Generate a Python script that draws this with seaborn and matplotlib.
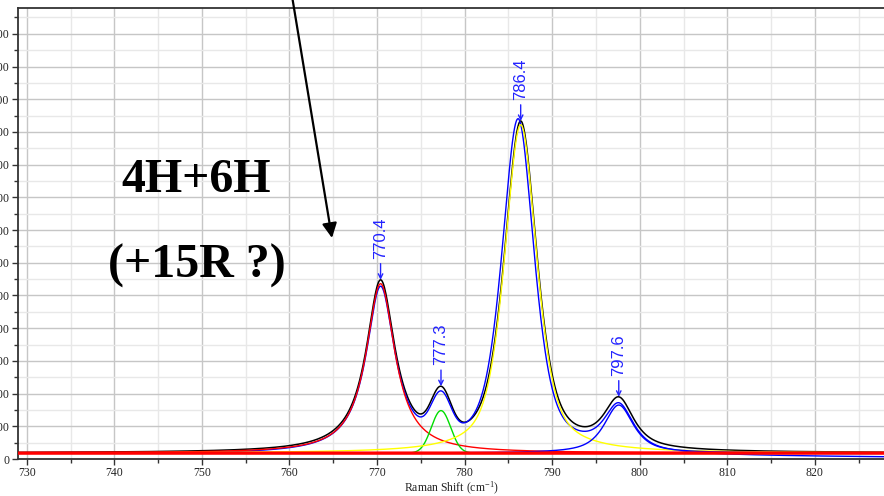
import numpy as np
import pandas as pd
import matplotlib
matplotlib.use("Agg")
import matplotlib.pyplot as plt
import seaborn as sns

# ---- fitted band parameters (Raman shift in cm-1, intensity in counts) ----
peak_labels = ["770.4", "777.3", "786.4", "797.6"]
peak_centers = [770.4, 777.3, 786.4, 797.6]
peak_heights = [518, 130, 1004, 147]
peak_fwhm = [4.0, 2.6, 4.4, 4.0]
peak_lorentz_frac = [1.0, 0.0, 0.6, 0.8]
component_colors = ["#ff0000", "#00dd00", "#ffff00", "#0000ff"]
fit_baseline = 18

# ---- measured spectrum (band positions / heights of the recorded data) ----
data_centers = [770.4, 777.3, 786.1, 797.6]
data_heights = [505, 122, 1020, 140]
data_baseline_ends = [16, 4]

x_min, x_max = 729.0, 828.8
y_min, y_max = 0, 1379
x_ticks = [730, 740, 750, 760, 770, 780, 790, 800, 810, 820]
y_ticks = list(range(0, 1400, 100))


def band(x, center, height, fwhm, eta):
    g = fwhm / 2.0
    sigma = fwhm / 2.3548
    lor = 1.0 / (1.0 + ((x - center) / g) ** 2)
    gau = np.exp(-((x - center) ** 2) / (2 * sigma ** 2))
    return height * (eta * lor + (1 - eta) * gau)


shift = np.arange(727.0, 830.0, 0.05)

components = [
    band(shift, c, h, w, e)
    for c, h, w, e in zip(peak_centers, peak_heights, peak_fwhm, peak_lorentz_frac)
]
fit_total = fit_baseline + np.sum(components, axis=0)

data_base = np.interp(shift, [shift[0], shift[-1]], data_baseline_ends)
measured = data_base + np.sum(
    [band(shift, c, h, w, e) for c, h, w, e in
     zip(data_centers, data_heights, peak_fwhm, peak_lorentz_frac)], axis=0)

sns.set_style("white")
plt.rcParams["font.family"] = ["Liberation Serif", "DejaVu Serif"]
plt.rcParams["mathtext.default"] = "regular"
plt.rcParams["text.color"] = "black"

W, H = 884, 496
fig = plt.figure(figsize=(W / 100, H / 100), dpi=100)
ax_l, ax_r, ax_t, ax_b = 18, 892, 8, 459
ax = fig.add_axes([ax_l / W, (H - ax_b) / H, (ax_r - ax_l) / W, (ax_b - ax_t) / H])

df = pd.DataFrame({"shift": shift, "fit": fit_total, "measured": measured})

sns.lineplot(data=df, x="shift", y="fit", ax=ax, color="black", lw=1.1,
             zorder=3, legend=False)
sns.lineplot(data=df, x="shift", y="measured", ax=ax, color="#0000ff", lw=1.0,
             zorder=4, legend=False)
for comp, col in zip(components, component_colors):
    sns.lineplot(x=shift, y=fit_baseline + comp, ax=ax, color=col, lw=1.0,
                 zorder=5, legend=False)
# fitted baseline
sns.lineplot(x=shift, y=np.full_like(shift, fit_baseline), ax=ax, color="#ff0000",
             lw=2.4, zorder=6, legend=False)

ax.set_xlim(x_min, x_max)
ax.set_ylim(y_min, y_max)
ax.set_xticks(x_ticks)
ax.set_xticks(np.arange(735, 830, 10), minor=True)
ax.set_yticks(y_ticks)
ax.set_yticks(np.arange(50, 1400, 100), minor=True)
ax.set_xticklabels([str(t) for t in x_ticks])
ax.set_yticklabels([str(t) for t in y_ticks])

ax.grid(True, which="major", color="#c6c6c6", lw=1.0, zorder=0)
ax.grid(True, which="minor", color="#e8e8e8", lw=1.0, zorder=0)
ax.set_axisbelow(True)

ax.tick_params(axis="both", which="major", direction="out", length=4.6, width=1.0,
               color="#333333", labelsize=8.5, pad=1.5, labelcolor="#222222")
ax.tick_params(axis="both", which="minor", direction="out", length=2.8, width=1.0,
               color="#333333")
ax.tick_params(bottom=True, left=True, which="both")

for side in ["left", "bottom", "top"]:
    ax.spines[side].set_color("#333333")
    ax.spines[side].set_linewidth(1.3)
ax.spines["right"].set_visible(False)

ax.set_xlabel("Raman Shift (cm$^{-1}$)", fontsize=8.5, color="#222222")
ax.xaxis.set_label_coords((451 - ax_l) / (ax_r - ax_l), -(480 - ax_b) / (ax_b - ax_t))
ax.set_ylabel("")

# peak position labels
for lab, c in zip(peak_labels, peak_centers):
    top = float(np.interp(c, shift, fit_total))
    ax.annotate(lab, xy=(c, top), xytext=(0, 15), textcoords="offset points",
                rotation=90, ha="center", va="bottom", color="#2222ff",
                fontsize=12, family=["Liberation Sans", "DejaVu Sans"],
                arrowprops=dict(arrowstyle="->", color="#2222ff", lw=1.0,
                                shrinkA=1, shrinkB=0, mutation_scale=8),
                zorder=8)

# polytype annotation
fig.text(196 / W, (H - 192) / H, "4H+6H", ha="center", va="baseline",
         fontsize=34.5, fontweight="bold", color="black")
fig.text(197 / W, (H - 278) / H, "(+15R ?)", ha="center", va="baseline",
         fontsize=34.5, fontweight="bold", color="black")
ax.annotate("", xy=(332 / W, (H - 238) / H), xycoords="figure fraction",
            xytext=(292 / W, (H + 4) / H), textcoords="figure fraction",
            arrowprops=dict(arrowstyle="-|>", color="black", lw=1.6,
                            mutation_scale=22, shrinkA=0, shrinkB=0),
            annotation_clip=False, zorder=9)

fig.savefig("out.png", dpi=100)
